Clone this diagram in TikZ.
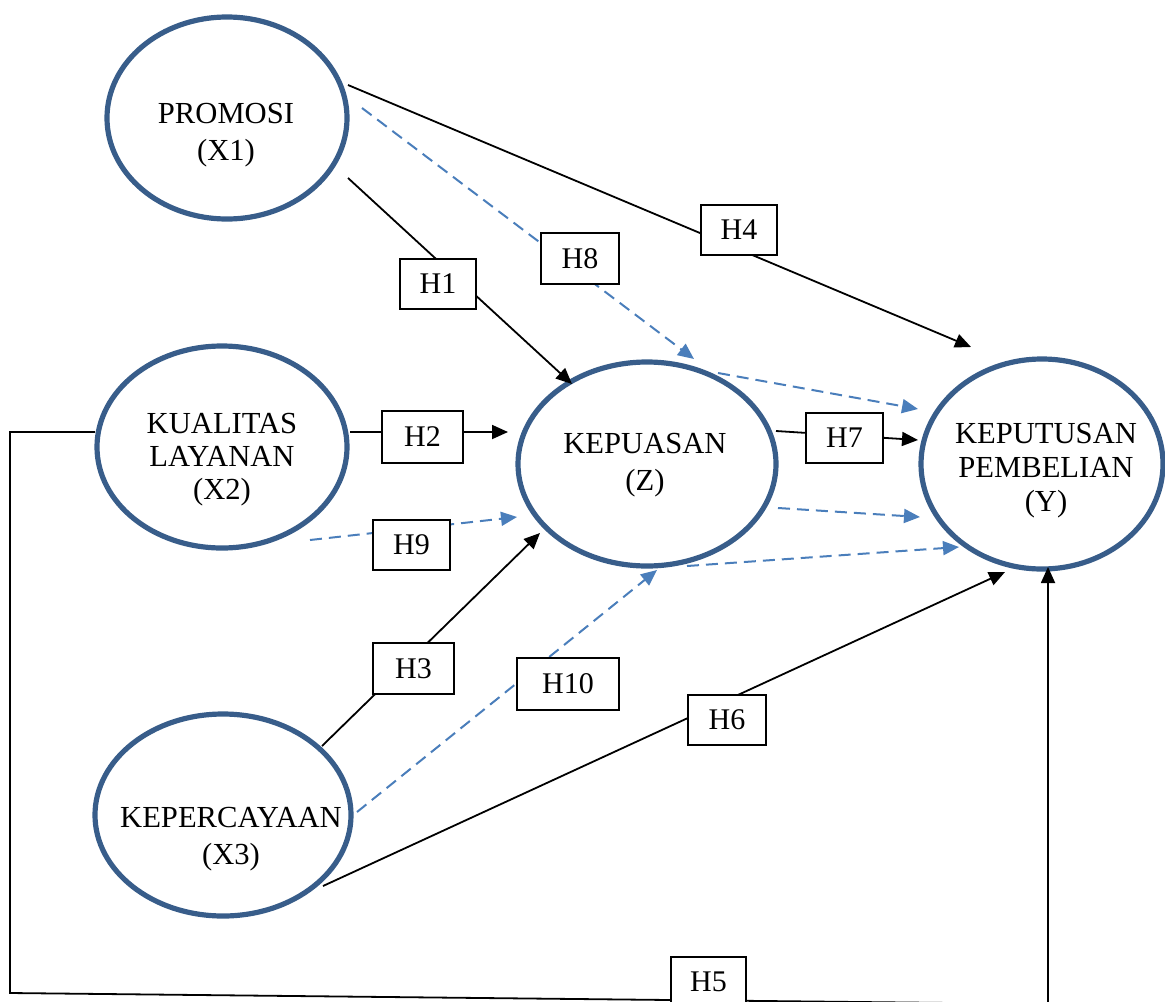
\documentclass[tikz,border=0pt]{standalone}
\usepackage{fontspec}
\setmainfont{Liberation Serif}
\usetikzlibrary{shapes.geometric, arrows.meta}
\definecolor{ovalblue}{HTML}{385D8A}
\definecolor{dashblue}{HTML}{4A7EBB}

\begin{document}
\begin{tikzpicture}[x=0.5pt, y=-0.5pt,
    oval/.style={draw=ovalblue, line width=2.6pt, ellipse, inner sep=0pt},
    txt/.style={anchor=north, inner sep=0pt, align=center, font=\fontsize{15.3}{18.5}\selectfont},
    hbox/.style={draw, fill=white, line width=0.7pt, inner sep=0pt, font=\fontsize{15}{17}\selectfont},
    headarrow/.style={-{Triangle[length=8pt, width=7pt]}},
    plain/.style={line width=0.9pt, headarrow},
    dashline/.style={dashblue, line width=1pt, dash pattern=on 6pt off 3.5pt, headarrow}]
    \useasboundingbox (0, 0) rectangle (1165, 1001);
    \clip (0, 0) rectangle (1165, 1001);

    % the five constructs
    \node[oval, minimum width=120pt, minimum height=101pt] (X1) at (227, 118) {};
    \node[oval, minimum width=125pt, minimum height=101pt] (X2) at (222, 447) {};
    \node[oval, minimum width=128pt, minimum height=101pt] (X3) at (223, 815) {};
    \node[oval, minimum width=129pt, minimum height=102pt] (Z) at (647, 464) {};
    \node[oval, minimum width=121pt, minimum height=105pt] (Y) at (1042, 464) {};

    \node[txt] (X1t) at (226, 103) {PROMOSI\\(X1)};
    \node[txt, font=\fontsize{15.3}{16.5}\selectfont] (X2t) at (222, 413) {KUALITAS\\LAYANAN\\(X2)};
    \node[txt] (X3t) at (231, 807) {KEPERCAYAAN\\(X3)};
    \node[txt] (Zt) at (645, 433) {KEPUASAN\\(Z)};
    \node[txt, font=\fontsize{15.3}{17}\selectfont] (Yt) at (1046, 423) {KEPUTUSAN\\PEMBELIAN\\(Y)};

    % free ends of the paths
    \coordinate (H1s) at (348, 178);
    \coordinate (H1e) at (572, 384);
    \coordinate (H2s) at (350, 432);
    \coordinate (H2e) at (508, 432);
    \coordinate (H3s) at (322, 746);
    \coordinate (H3e) at (540, 533);
    \coordinate (H4s) at (348, 85);
    \coordinate (H4e) at (971, 347);
    \coordinate (H5s) at (95, 432);
    \coordinate (H5a) at (10, 432);
    \coordinate (H5b) at (10, 993);
    \coordinate (H5c) at (1048, 1004);
    \coordinate (H5e) at (1048, 567);
    \coordinate (H6s) at (323, 886);
    \coordinate (H6e) at (1005, 572);
    \coordinate (H7s) at (776, 431);
    \coordinate (H7e) at (918, 440);
    \coordinate (H8s) at (362, 108);
    \coordinate (H8e) at (694, 359);
    \coordinate (H9s) at (310, 540);
    \coordinate (H9e) at (517, 517);
    \coordinate (H10s) at (357, 812);
    \coordinate (H10e) at (657, 570);
    \coordinate (Z1s) at (718, 373);
    \coordinate (Z1e) at (918, 409);
    \coordinate (Z2s) at (778, 508);
    \coordinate (Z2e) at (920, 517);
    \coordinate (Z3s) at (687, 566);
    \coordinate (Z3e) at (959, 547);

    % direct effects
    \draw[plain] (H1s) -- (H1e); % X1 -> Z
    \draw[plain] (H2s) -- (H2e); % X2 -> Z
    \draw[plain] (H3s) -- (H3e); % X3 -> Z
    \draw[plain] (H4s) -- (H4e); % X1 -> Y
    \draw[plain] (H5s) -- (H5a) -- (H5b) -- (H5c) -- (H5e); % X2 -> Y
    \draw[plain] (H6s) -- (H6e); % X3 -> Y
    \draw[plain] (H7s) -- (H7e); % Z -> Y

    % mediated effects
    \draw[dashline] (H8s) -- (H8e);
    \draw[dashline] (H9s) -- (H9e);
    \draw[dashline] (H10s) -- (H10e);
    \draw[dashline] (Z1s) -- (Z1e);
    \draw[dashline] (Z2s) -- (Z2e);
    \draw[dashline] (Z3s) -- (Z3e);

    % hypothesis labels
    \node[hbox, minimum width=38pt, minimum height=25pt] (H1) at (438, 284) {H1};
    \node[hbox, minimum width=40.5pt, minimum height=26pt] (H2) at (422.5, 437) {H2};
    \node[hbox, minimum width=40.5pt, minimum height=25.5pt] (H3) at (413.5, 668.5) {H3};
    \node[hbox, minimum width=38pt, minimum height=25pt] (H4) at (739, 230) {H4};
    \node[hbox, minimum width=37.5pt, minimum height=25pt] (H5) at (708.5, 982) {H5};
    \node[hbox, minimum width=39pt, minimum height=25pt] (H6) at (727, 720) {H6};
    \node[hbox, minimum width=38.5pt, minimum height=25pt] (H7) at (844.5, 438) {H7};
    \node[hbox, minimum width=39pt, minimum height=25.5pt] (H8) at (580, 258.5) {H8};
    \node[hbox, minimum width=38.5pt, minimum height=25pt] (H9) at (411.5, 545) {H9};
    \node[hbox, minimum width=51pt, minimum height=26pt] (H10) at (568, 684) {H10};
\end{tikzpicture}
\end{document}
